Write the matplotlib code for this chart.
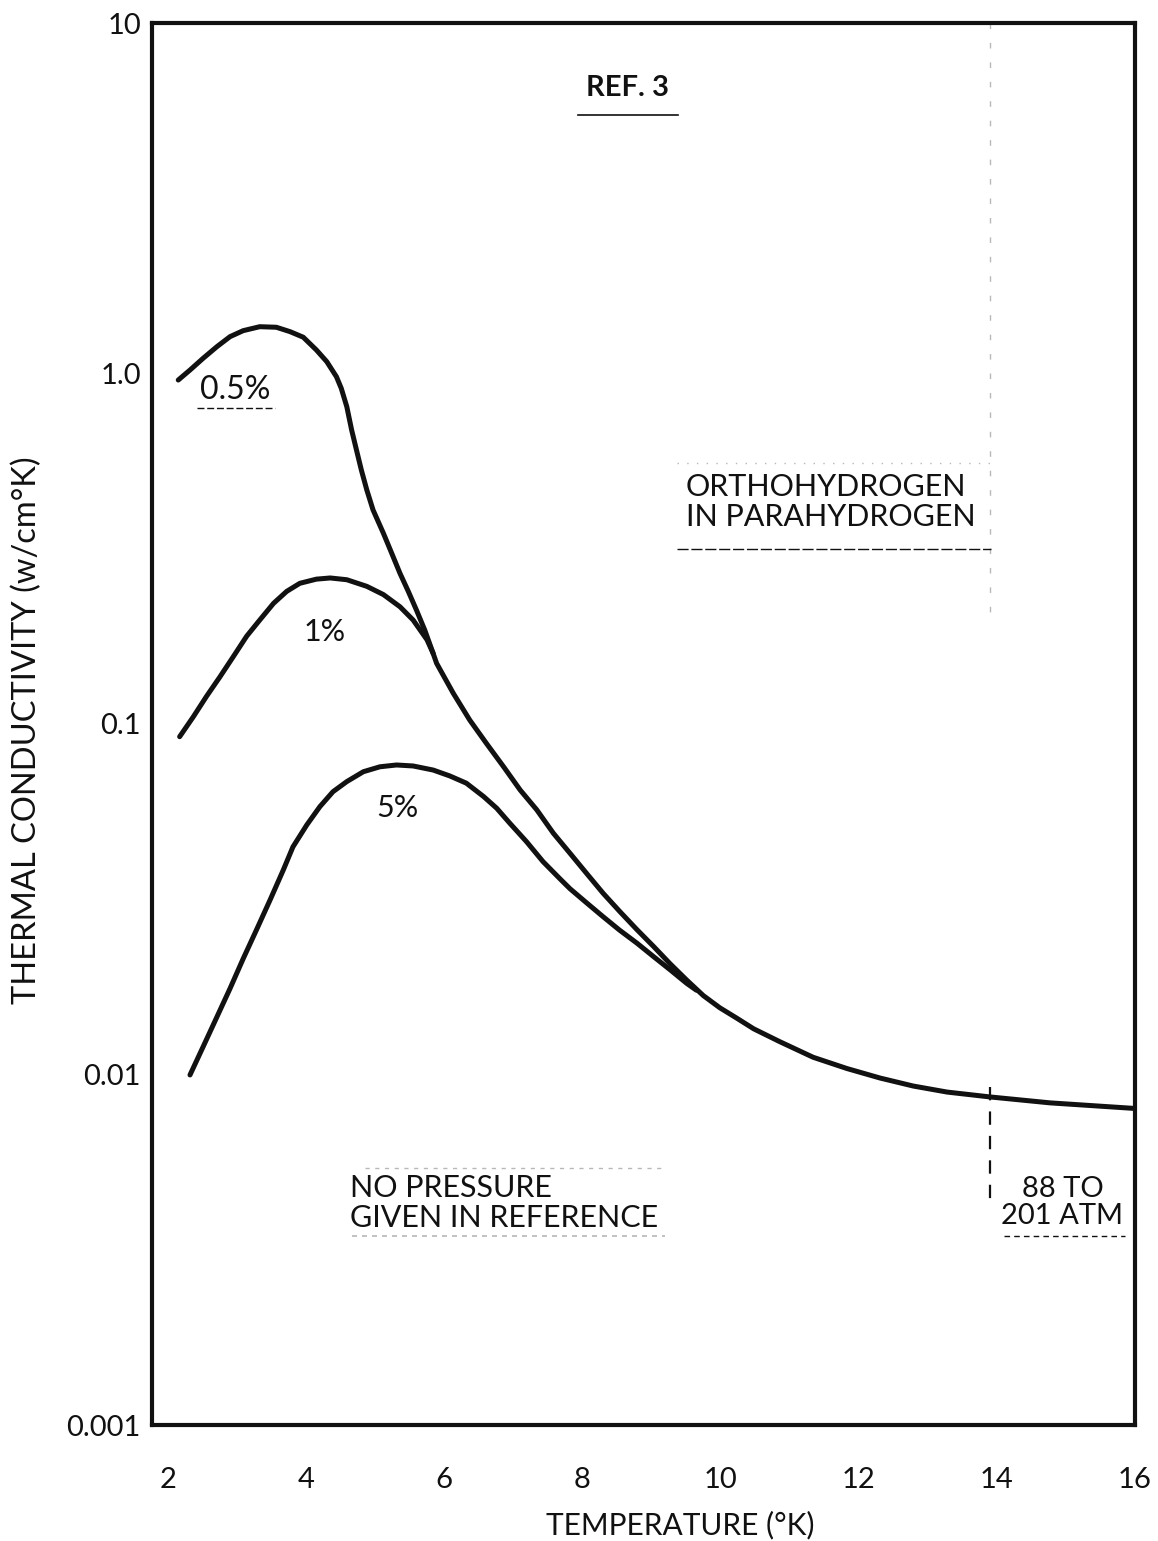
"""Thermal conductivity of orthohydrogen in parahydrogen vs temperature (log scale)."""
import matplotlib
matplotlib.use("Agg")
import matplotlib.pyplot as plt
from matplotlib.ticker import NullLocator

INK = "#111111"
FAINT = "#b8b8b8"
FONT = ["Lato", "DejaVu Sans"]

# 0.5 % ortho (runs on into the common high-temperature tail)
t_05 = [2.15, 2.32, 2.51, 2.71, 2.90, 3.09, 3.33, 3.57, 3.77, 3.96, 4.15, 4.30,
        4.44, 4.51, 4.59, 4.66, 4.73, 4.80, 4.88, 4.97, 5.12, 5.24, 5.36, 5.48,
        5.60, 5.72, 5.84, 5.89, 6.13, 6.37, 6.61, 6.86, 7.10, 7.34, 7.58, 7.82,
        8.06, 8.30, 8.54, 8.79, 9.03, 9.27, 9.51, 9.75, 9.99, 10.23, 10.48,
        10.86, 11.34, 11.83, 12.31, 12.79, 13.28, 13.90, 14.77, 16.0]
k_05 = [0.958, 1.023, 1.105, 1.193, 1.274, 1.325, 1.360, 1.355, 1.316, 1.269,
        1.167, 1.081, 0.979, 0.907, 0.804, 0.690, 0.605, 0.531, 0.465, 0.408,
        0.350, 0.307, 0.269, 0.239, 0.211, 0.185, 0.159, 0.149, 0.1225, 0.1026,
        0.0881, 0.0755, 0.0648, 0.0569, 0.0488, 0.0428, 0.0375, 0.0329, 0.0292,
        0.0259, 0.0232, 0.0207, 0.0186, 0.0168, 0.0155, 0.0145, 0.0135, 0.0124,
        0.0112, 0.0104, 0.00977, 0.00927, 0.00891, 0.00863, 0.00830, 0.00800]

# 1 % ortho (joins the 0.5 % curve near 5.8 K)
t_1 = [2.17, 2.37, 2.56, 2.75, 2.95, 3.14, 3.33, 3.53, 3.72, 3.91, 4.15, 4.35,
       4.59, 4.88, 5.12, 5.36, 5.55, 5.75, 5.84]
k_1 = [0.0920, 0.105, 0.120, 0.136, 0.156, 0.178, 0.198, 0.221, 0.239, 0.252,
       0.259, 0.261, 0.258, 0.247, 0.234, 0.216, 0.198, 0.174, 0.159]

# 5 % ortho (joins near 9.7 K)
t_5 = [2.32, 2.51, 2.71, 2.90, 3.09, 3.28, 3.48, 3.67, 3.81, 4.01, 4.20, 4.39,
       4.59, 4.83, 5.07, 5.31, 5.55, 5.84, 6.08, 6.32, 6.57, 6.76, 6.95, 7.19,
       7.43, 7.68, 7.82, 8.06, 8.30, 8.54, 8.79, 9.03, 9.27, 9.51, 9.65]
k_5 = [0.00997, 0.0120, 0.0146, 0.0176, 0.0214, 0.0258, 0.0315, 0.0383, 0.0446,
       0.0515, 0.0581, 0.0641, 0.0685, 0.0731, 0.0755, 0.0764, 0.0759, 0.0739,
       0.0711, 0.0678, 0.0621, 0.0575, 0.0521, 0.0462, 0.0405, 0.0361, 0.0339,
       0.0309, 0.0282, 0.0258, 0.0237, 0.0217, 0.0199, 0.0182, 0.0174]

x_ticks = [2, 4, 6, 8, 10, 12, 14, 16]
y_ticks = [0.001, 0.01, 0.1, 1.0, 10]
y_ticklabels = ["0.001", "0.01", "0.1", "1.0", "10"]
atm_T = 13.9  # start of the 88-201 atm data

fig = plt.figure(figsize=(11.58, 15.41), dpi=100)
fig.patch.set_facecolor("white")
ax = fig.add_axes([152 / 1158, 116 / 1541, 983 / 1158, 1402 / 1541])

for t, k in ((t_05, k_05), (t_1, k_1), (t_5, k_5)):
    ax.plot(t, k, color=INK, lw=3.6, solid_capstyle="round",
            solid_joinstyle="round", zorder=3)

ax.set_yscale("log")
ax.set_xlim(1.77, 16)
ax.set_ylim(0.001, 10)
ax.set_xticks(x_ticks)
ax.set_xticklabels([str(v) for v in x_ticks], family=FONT, fontsize=21)
ax.set_yticks(y_ticks)
ax.set_yticklabels(y_ticklabels, family=FONT, fontsize=21)
ax.yaxis.set_minor_locator(NullLocator())
ax.tick_params(axis="x", length=0, pad=30, colors=INK)
ax.tick_params(axis="y", length=0, pad=8, colors=INK)
for s in ax.spines.values():
    s.set_linewidth(3.0)
    s.set_color(INK)

# faint scan grid remnant and the pressure boundary
ax.plot([atm_T, atm_T], [10, 0.2], color=FAINT, lw=1.0, ls=(0, (4, 10)), zorder=1)
ax.plot([atm_T, atm_T], [0.0092, 0.0042], color=INK, lw=1.6, ls=(0, (6, 5)), zorder=2)

txt = dict(family=FONT, color=INK)
ax.text(8.66, 6.53, "REF. 3", ha="center", va="center", fontsize=21,
        fontweight="bold", **txt)
ax.plot([7.93, 9.38], [5.45, 5.45], color=INK, lw=1.2)

ax.text(2.97, 0.897, "0.5%", ha="center", va="center", fontsize=23, **txt)
ax.plot([2.42, 3.55], [0.795, 0.795], color=INK, lw=1.0, ls=(0, (5, 2)))
ax.text(4.27, 0.183, "1%", ha="center", va="center", fontsize=22, **txt)
ax.text(5.33, 0.0575, "5%", ha="center", va="center", fontsize=22, **txt)

ax.text(9.50, 0.43, "ORTHOHYDROGEN\nIN PARAHYDROGEN", ha="left", va="center",
        fontsize=22, linespacing=1.05, **txt)
ax.plot([9.37, 13.92], [0.315, 0.315], color=INK, lw=1.0, ls=(0, (8, 2)))
ax.plot([9.37, 13.92], [0.555, 0.555], color=FAINT, lw=1.0, ls=(0, (1, 6)))

ax.text(4.63, 0.0043, "NO PRESSURE\nGIVEN IN REFERENCE", ha="left", va="center",
        fontsize=22, linespacing=1.05, **txt)
ax.plot([4.85, 9.15], [0.0054, 0.0054], color=FAINT, lw=1.0, ls=(0, (3, 4)))
ax.plot([4.66, 9.2], [0.00345, 0.00345], color=FAINT, lw=1.2, ls=(0, (3, 3)))

ax.text(14.95, 0.0043, "88 TO\n201 ATM", ha="center", va="center",
        fontsize=21, linespacing=1.05, **txt)
ax.plot([14.1, 15.85], [0.00345, 0.00345], color=INK, lw=1.0, ls=(0, (4, 3)))

fig.text(680 / 1158, 1 - 1525 / 1541, "TEMPERATURE (°K)", ha="center",
         va="center", fontsize=21.5, **txt)
fig.text(27 / 1158, 1 - 730 / 1541, "THERMAL CONDUCTIVITY (w/cm°K)", ha="center",
         va="center", rotation=90, fontsize=23.5, **txt)

fig.savefig("out.png", dpi=100, facecolor="white")
